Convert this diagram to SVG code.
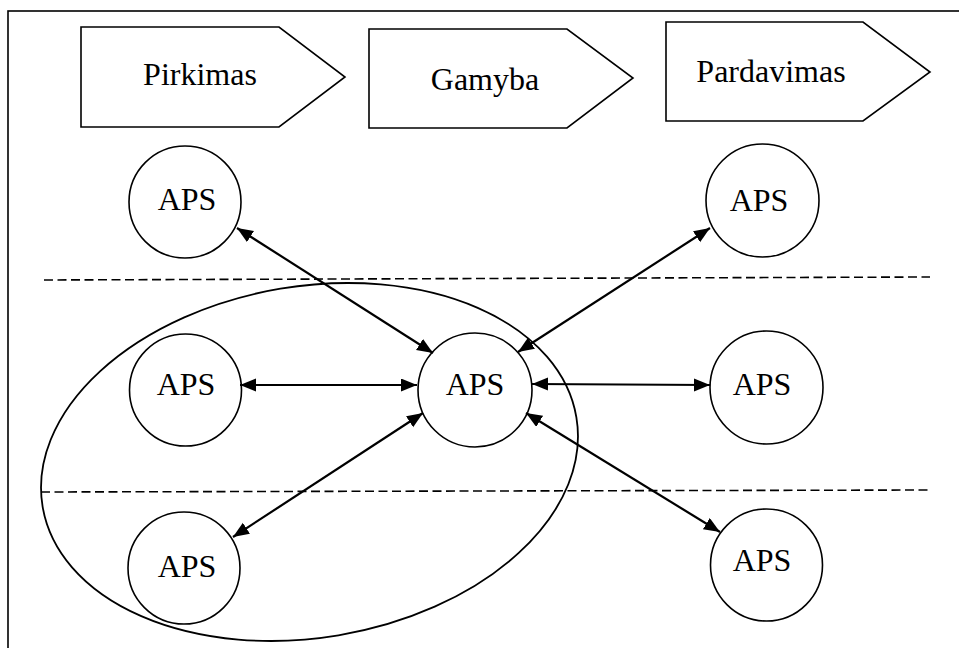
<svg xmlns="http://www.w3.org/2000/svg" width="959" height="648" viewBox="0 0 959 648">
<style>
.sh{fill:#fff;stroke:#000;stroke-width:1.6}
.t{font-family:"Liberation Serif","Times New Roman",serif;font-size:32px;fill:#000;text-anchor:middle}
.c{stroke:#000;stroke-width:2.2;fill:none;marker-start:url(#ah);marker-end:url(#ah)}
.d{stroke:#000;stroke-width:1.6;stroke-dasharray:9 4.5;fill:none}
</style>
<defs>
<marker id="ah" markerUnits="userSpaceOnUse" markerWidth="17" markerHeight="14" refX="16" refY="6.5" orient="auto-start-reverse">
<path d="M0,0 L16,6.5 L0,13 z" fill="#000"/>
</marker>
</defs>
<rect x="0" y="0" width="959" height="648" fill="#fff"/>
<rect x="8" y="11" width="980" height="680" fill="none" stroke="#000" stroke-width="1.6"/>
<g id="stage-pirkimas"><polygon class="sh" points="81,27 279,27 345,77 279,127 81,127"/><text class="t" x="200" y="85">Pirkimas</text></g>
<g id="stage-gamyba"><polygon class="sh" points="369,29 567,29 633,78 567,128 369,128"/><text class="t" x="485" y="90">Gamyba</text></g>
<g id="stage-pardavimas"><polygon class="sh" points="666,22 863,22 930,72 863,121 666,121"/><text class="t" x="771" y="82">Pardavimas</text></g>
<g id="dividers"><line class="d" x1="44" y1="280" x2="930" y2="277"/><line class="d" x1="41" y1="492" x2="929" y2="490"/></g>
<g id="group-ellipse"><ellipse cx="309.5" cy="462" rx="270.6" ry="175.7" transform="rotate(-9.5 309.5 462)" fill="none" stroke="#000" stroke-width="1.8"/></g>
<g id="aps-tl"><circle class="sh" cx="185" cy="202" r="56"/><text class="t" x="187" y="210">APS</text></g>
<g id="aps-ml"><circle class="sh" cx="185.5" cy="390" r="56"/><text class="t" x="186" y="395">APS</text></g>
<g id="aps-c"><circle class="sh" cx="475" cy="390" r="57"/><text class="t" x="475" y="395">APS</text></g>
<g id="aps-tr"><circle class="sh" cx="762.5" cy="200.5" r="56.5"/><text class="t" x="759" y="211">APS</text></g>
<g id="aps-mr"><circle class="sh" cx="766.5" cy="387.5" r="56.5"/><text class="t" x="762" y="395">APS</text></g>
<g id="aps-bl"><circle class="sh" cx="184" cy="568" r="56"/><text class="t" x="187" y="577">APS</text></g>
<g id="aps-br"><circle class="sh" cx="766.5" cy="565" r="56"/><text class="t" x="762" y="571">APS</text></g>
<g id="connectors">
<line class="c" x1="237" y1="228" x2="433" y2="353"/>
<line class="c" x1="240" y1="385" x2="417" y2="385"/>
<line class="c" x1="518" y1="352" x2="710" y2="228"/>
<line class="c" x1="532" y1="384" x2="710" y2="385"/>
<line class="c" x1="423" y1="413" x2="233" y2="537"/>
<line class="c" x1="526" y1="413" x2="720" y2="532"/>
</g>
</svg>
